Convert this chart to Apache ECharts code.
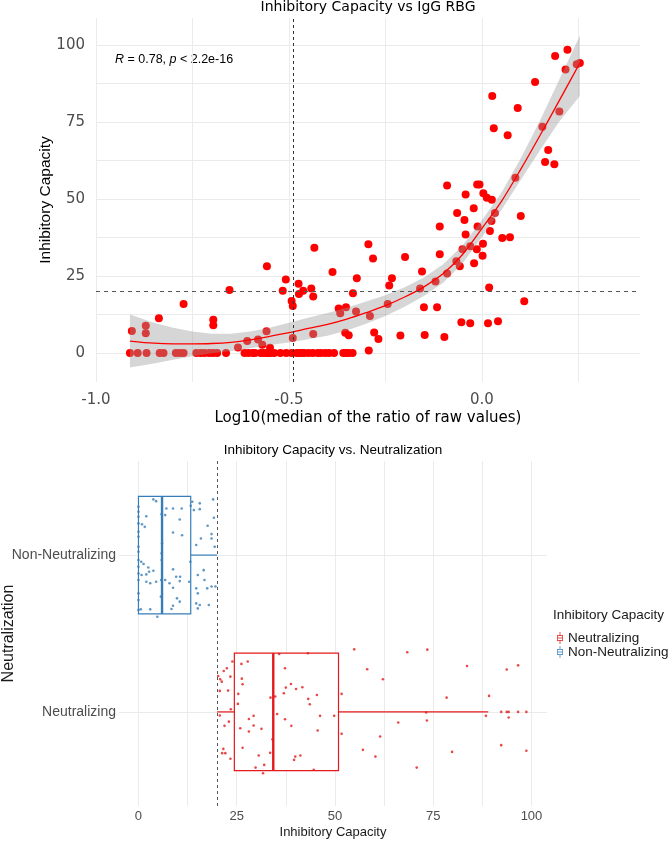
<!DOCTYPE html>
<html lang="en">
<head>
<meta charset="utf-8">
<title>Inhibitory Capacity</title>
<style>
  html, body { margin: 0; padding: 0; background: #fff; }
  #chart { width: 671px; height: 842px; }
</style>
</head>
<body>
<div id="chart"></div>
<script src="https://cdn.jsdelivr.net/npm/echarts@6/dist/echarts.min.js"></script>
<script>
// ---- top panel: log10 ratio vs inhibitory capacity ----
const logRatio = [
  -0.912, -0.892, -0.869, -0.835, -0.825, -0.793, -0.783, -0.773, -0.740, -0.729,
  -0.719, -0.707, -0.697, -0.686, -0.663, -0.615, -0.605, -0.594, -0.588, -0.573,
  -0.568, -0.560, -0.554, -0.547, -0.538, -0.522, -0.507, -0.493, -0.480, -0.473,
  -0.467, -0.460, -0.449, -0.438, -0.425, -0.417, -0.406, -0.396, -0.383, -0.359,
  -0.352, -0.345, -0.335, -0.293,
  -0.907, -0.871, -0.871, -0.837, -0.773, -0.696, -0.696, -0.654, -0.632, -0.608,
  -0.580, -0.569, -0.558, -0.557, -0.549, -0.516, -0.508, -0.493, -0.490, -0.490,
  -0.475, -0.474, -0.463, -0.442, -0.437, -0.434, -0.437, -0.387, -0.371, -0.367,
  -0.352, -0.354, -0.345, -0.334, -0.326, -0.324, -0.294, -0.282, -0.290, -0.279,
  -0.268,
  -0.244, -0.240, -0.233, -0.211, -0.199, -0.160, -0.155, -0.150, -0.148, -0.120,
  -0.116, -0.109, -0.109, -0.097, -0.090, -0.090, -0.066, -0.064, -0.057, -0.053,
  -0.050, -0.045, -0.042, -0.042, -0.030, -0.030, -0.021, -0.020, -0.013, -0.011,
  -0.012, -0.006, 0.002, 0.003, 0.004, 0.013, 0.016, 0.019, 0.021, 0.025,
  0.026, 0.034, 0.042, 0.053, 0.073, 0.101, 0.110,
  0.027, 0.031, 0.067, 0.087, 0.093, 0.138, 0.157, 0.164, 0.172, 0.188,
  0.190, 0.201, 0.217, 0.222, 0.246, 0.254
];
const inhibCap = [
  0, 0, 0, 0, 0, 0, 0, 0, 0, 0,
  0, 0, 0, 0, 0, 0, 0, 0, 0, 0,
  0, 0, 0, 0, 0, 0, 0, 0, 0, 0,
  0, 0, 0, 0, 0, 0, 0, 0, 0, 0,
  0, 0, 0, 0.8,
  7.2, 8.9, 6.4, 11.3, 15.9, 10.8, 9.0, 20.5, 1.8, 3.9,
  4.4, 2.7, 7.1, 28.2, 1.7, 20.2, 23.9, 16.9, 15.3, 4.9,
  22.5, 19.2, 20.2, 21.0, 18.4, 34.2, 6.2, 26.3, 14.5, 12.9,
  14.9, 6.6, 5.8, 19.4, 13.5, 24.3, 35.3, 30.7, 12.0, 6.7,
  4.6,
  15.9, 21.9, 24.3, 5.7, 31.2, 21.0, 26.5, 14.9, 5.9, 23.2,
  14.9, 32.1, 41.1, 5.2, 25.8, 54.4, 29.8, 45.5, 28.2, 10.0,
  33.7, 43.2, 38.5, 51.5, 34.7, 9.7, 47.0, 29.2, 33.7, 41.1,
  54.7, 54.7, 31.6, 35.5, 51.9, 50.4, 9.7, 21.3, 39.6, 42.9,
  49.8, 45.5, 10.3, 37.4, 37.6, 44.5, 16.8,
  83.5, 73.0, 70.7, 56.9, 79.6, 88.0, 73.5, 62.0, 65.9, 61.3,
  96.5, 78.4, 92.1, 98.5, 93.8, 94.2
];

// loess fit and its confidence band
const fitX     = [-0.912, -0.85, -0.80, -0.75, -0.70, -0.65, -0.60, -0.55, -0.50, -0.45, -0.40, -0.35, -0.30, -0.25, -0.20, -0.15, -0.10, -0.05, 0.00, 0.05, 0.10, 0.15, 0.20, 0.254];
const fitY     = [3.9, 3.2, 3.0, 3.0, 3.1, 3.5, 4.3, 5.4, 6.6, 8.0, 9.3, 11.0, 13.1, 15.4, 18.2, 21.5, 25.8, 32.0, 40.4, 49.1, 59.5, 70.5, 81.8, 94.2];
const fitLower = [-4.7, -3.4, -2.2, -1.0, -0.1, 0.7, 1.6, 2.6, 3.4, 4.5, 5.6, 7.3, 9.5, 12.0, 15.0, 18.5, 22.8, 29.1, 37.7, 46.3, 56.0, 65.7, 75.0, 83.5];
const fitUpper = [12.5, 9.8, 8.2, 7.0, 6.3, 6.3, 7.0, 8.2, 9.8, 11.5, 13.0, 14.7, 16.7, 18.8, 21.4, 24.5, 28.8, 34.9, 43.1, 51.9, 63.0, 75.3, 88.6, 103.0];

const topXTicks = [-1.0, -0.5, 0.0];
const topXGrid  = [-1.0, -0.75, -0.5, -0.25, 0.0, 0.25];
const topYTicks = [0, 25, 50, 75, 100];
const topYGrid  = [0, 12.5, 25, 37.5, 50, 62.5, 75, 87.5, 100];
const cutRatio = -0.49;
const cutCap = 20;

// ---- bottom panel: boxplots by neutralization ----
const catLabels = ['Neutralizing', 'Non-Neutralizing'];
const catPos    = [1, 2];
const boxLow  = [20.0, 0];
const boxQ1   = [24.4, 0];
const boxMed  = [34.3, 6.0];
const boxQ3   = [50.9, 13.3];
const boxHigh = [89.0, 20.0];
const neutOutliers = [92.3, 93.7, 94.2, 96.6, 98.7];

const neutIC = [
  35.8, 43.1, 27.8, 26.2, 23.9, 22.5, 21.7, 20.3, 20.8, 21.2,
  23.4, 37.3, 26.3, 26.5, 38.8, 37.5, 40.1, 41.7, 20.7, 22.8,
  25.4, 33.6, 34.8, 37.0, 43.2, 45.4, 43.6, 23.5, 25.3, 20.7,
  35.3, 46.2, 49.8, 37.3, 38.9, 28.1, 29.3, 21.9, 23.0, 25.9,
  28.1, 29.3, 31.3, 45.6, 34.1, 21.6, 21.3, 22.1, 26.5, 23.4,
  39.9, 39.6, 41.2, 30.6, 33.5, 29.8, 32.0, 31.7, 44.6,
  54.9, 68.4, 73.5, 58.2, 62.2, 83.6, 93.7, 96.6, 51.7, 78.4,
  89.2, 73.2, 73.4, 66.1, 88.4, 94.2, 51.7, 61.5, 57.1, 60.3,
  79.8, 92.3, 98.7, 70.8
];
const neutJitter = [
  0.369, 0.374, 0.321, 0.306, 0.321, 0.278, 0.261, 0.229, 0.208, 0.193,
  0.225, 0.278, 0.212, 0.176, 0.178, 0.155, 0.146, 0.157, 0.134, 0.136,
  0.115, 0.091, 0.098, 0.119, 0.083, 0.108, 0.049, 0.017, 0.051, -0.023,
  -0.013, -0.025, -0.025, -0.047, -0.089, -0.045, -0.025, -0.089, -0.062, -0.104,
  -0.125, -0.087, -0.108, -0.119, -0.174, -0.236, -0.263, -0.263, -0.229, -0.299,
  -0.285, -0.306, -0.278, -0.278, -0.261, -0.355, -0.338, -0.391, -0.369,
  0.399, 0.380, 0.397, 0.272, 0.208, 0.293, 0.270, 0.297, 0.115, 0.091,
  0.102, -0.004, -0.055, -0.068, -0.025, -0.036, -0.140, -0.157, -0.242, -0.285,
  -0.255, -0.212, -0.248, -0.355
];
const nonNeutIC = [
  0, 0, 0, 0, 0, 0, 0, 0, 0, 0,
  0, 0, 0, 0, 0,
  3.8, 4.5, 2.0, 0.9, 1.6, 7.1, 8.8, 11.0, 6.8, 10.5,
  5.9, 8.8, 11.1, 6.0, 13.3, 14.1, 15.6, 13.7, 15.6, 19.0,
  19.2, 17.6, 18.6, 18.6, 15.9, 14.7, 19.4, 13.2, 0.7, 1.3,
  2.5, 2.7, 2.0, 0.8, 3.8, 8.8, 5.8, 6.8, 2.0, 4.5,
  3.0, 10.5, 9.6, 10.6, 7.9, 12.9, 15.1, 16.6, 16.8, 14.7,
  15.1, 17.5, 18.6, 19.6, 17.9, 15.6, 15.1, 14.7, 8.8, 9.8,
  10.5, 8.4, 8.8, 0.6, 3.0, 5.7, 5.9, 5.9, 4.8
];
const nonNeutJitter = [
  0.308, 0.276, 0.244, 0.202, 0.149, 0.117, 0.053, 0.021, -0.032, -0.074,
  -0.117, -0.159, -0.244, -0.287, -0.350,
  0.355, 0.344, 0.248, 0.197, 0.180, 0.297, 0.297, 0.297, 0.255, 0.227,
  0.261, 0.144, 0.127, 0.074, 0.314, 0.287, 0.293, 0.340, 0.330, 0.355,
  0.238, 0.187, 0.134, 0.106, 0.106, 0.064, 0.053, -0.042, -0.042, -0.057,
  -0.079, -0.106, -0.123, -0.127, -0.100, -0.091, -0.159, -0.159, -0.170, -0.170,
  -0.180, -0.166, -0.138, -0.138, -0.180, -0.170, -0.127, -0.096, -0.159, -0.212,
  -0.244, -0.212, -0.200, -0.200, -0.318, -0.318, -0.340, -0.308, -0.208, -0.276,
  -0.297, -0.344, -0.323, -0.346, -0.346, -0.265, -0.032, 0.011, -0.393
];

const botXTicks = [0, 25, 50, 75, 100];
const botXGrid  = [0, 12.5, 25, 37.5, 50, 62.5, 75, 87.5, 100];

// ---- styling ----
const RED = '#e41a1c';
const BLUE = '#377eb8';
const boxColors = [RED, BLUE];
const GRID_LINE = '#ebebeb';
const TICK_GREY = '#4d4d4d';
const TOP_FONT = 'DejaVu Sans';
const BOT_FONT = 'Liberation Sans';
const boxIcon = 'path://M0,5H10V15H0Z M1.5,6.5V13.5H8.5V6.5Z M1.5,9.25H8.5V10.75H1.5Z M4.25,0H5.75V5H4.25Z M4.25,15H5.75V20H4.25Z';

const chart = echarts.init(document.getElementById('chart'));

function renderBand(params, api) {
  if (params.dataIndex !== 0) return;
  const n = params.dataInsideLength;
  const upper = [], lower = [];
  for (let i = 0; i < n; i++) {
    upper.push(api.coord([api.value(0, i), api.value(2, i)]));
    lower.unshift(api.coord([api.value(0, i), api.value(1, i)]));
  }
  return {
    type: 'polygon',
    shape: { points: upper.concat(lower) },
    style: { fill: 'rgba(153,153,153,0.4)' }
  };
}

function renderBox(params, api) {
  const pos = api.value(0);
  const lo = api.value(1), q1 = api.value(2), med = api.value(3), q3 = api.value(4), hi = api.value(5);
  const color = boxColors[params.dataIndex];
  const half = 0.375;
  const a = api.coord([q1, pos + half]);
  const b = api.coord([q3, pos - half]);
  const mTop = api.coord([med, pos + half]);
  const mBot = api.coord([med, pos - half]);
  const wLo = api.coord([lo, pos]);
  const wQ1 = api.coord([q1, pos]);
  const wQ3 = api.coord([q3, pos]);
  const wHi = api.coord([hi, pos]);
  return {
    type: 'group',
    children: [
      { type: 'line', shape: { x1: wLo[0], y1: wLo[1], x2: wQ1[0], y2: wQ1[1] }, style: { stroke: color, lineWidth: 1.2 } },
      { type: 'line', shape: { x1: wQ3[0], y1: wQ3[1], x2: wHi[0], y2: wHi[1] }, style: { stroke: color, lineWidth: 1.2 } },
      { type: 'rect', shape: { x: a[0], y: a[1], width: b[0] - a[0], height: b[1] - a[1] }, style: { fill: '#fff', stroke: color, lineWidth: 1.2 } },
      { type: 'line', shape: { x1: mTop[0], y1: mTop[1], x2: mBot[0], y2: mBot[1] }, style: { stroke: color, lineWidth: 2.4 } }
    ]
  };
}

const option = {
  animation: false,
  backgroundColor: '#fff',
  grid: [
    { left: 96, right: 31, top: 18, bottom: 460, outerBoundsMode: 'none', containLabel: false },
    { left: 119, right: 124, top: 461, bottom: 36, outerBoundsMode: 'none', containLabel: false }
  ],
  xAxis: [
    {
      type: 'value', gridIndex: 0, min: -1.0, max: 0.41,
      axisLine: { show: false },
      axisTick: { show: false, customValues: topXGrid },
      axisLabel: { customValues: topXTicks, formatter: v => v.toFixed(1), color: TICK_GREY, fontFamily: TOP_FONT, fontSize: 15, margin: 11 },
      splitLine: { show: true, lineStyle: { color: GRID_LINE, width: 1 } },
      name: 'Log10(median of the ratio of raw values)', nameLocation: 'middle', nameGap: 29,
      nameTextStyle: { color: '#000', fontFamily: TOP_FONT, fontSize: 15 }
    },
    {
      type: 'value', gridIndex: 1, min: -4.95, max: 103.95,
      axisLine: { show: false },
      axisTick: { show: false, customValues: botXGrid },
      axisLabel: { customValues: botXTicks, color: TICK_GREY, fontFamily: BOT_FONT, fontSize: 13, margin: 4 },
      splitLine: { show: true, lineStyle: { color: GRID_LINE, width: 1 } },
      name: 'Inhibitory Capacity', nameLocation: 'middle', nameGap: 20,
      nameTextStyle: { color: '#1a1a1a', fontFamily: BOT_FONT, fontSize: 13 }
    }
  ],
  yAxis: [
    {
      type: 'value', gridIndex: 0, min: -9.4, max: 108.8,
      axisLine: { show: false },
      axisTick: { show: false, customValues: topYGrid },
      axisLabel: { customValues: topYTicks, color: TICK_GREY, fontFamily: TOP_FONT, fontSize: 15, margin: 11 },
      splitLine: { show: true, lineStyle: { color: GRID_LINE, width: 1 } },
      name: 'Inhibitory Capacity', nameLocation: 'middle', nameGap: 42, nameMoveOverlap: false,
      nameTextStyle: { color: '#000', fontFamily: BOT_FONT, fontSize: 15.5 }
    },
    {
      type: 'value', gridIndex: 1, min: 0.4, max: 2.6,
      axisLine: { show: false },
      axisTick: { show: false, customValues: catPos },
      axisLabel: {
        customValues: catPos,
        formatter: v => catLabels[catPos.indexOf(v)] || '',
        color: TICK_GREY, fontFamily: BOT_FONT, fontSize: 14, margin: 3
      },
      splitLine: { show: true, lineStyle: { color: GRID_LINE, width: 1 } },
      name: 'Neutralization', nameLocation: 'middle', nameGap: 102, nameMoveOverlap: false,
      nameTextStyle: { color: '#1a1a1a', fontFamily: BOT_FONT, fontSize: 16 }
    }
  ],
  legend: {
    orient: 'vertical', left: 552, top: 626,
    itemWidth: 6, itemHeight: 12, itemGap: 0,
    selectedMode: false,
    textStyle: { fontFamily: BOT_FONT, fontSize: 13.5, color: '#1a1a1a' },
    data: [
      { name: 'Neutralizing', icon: boxIcon, itemStyle: { color: RED } },
      { name: 'Non-Neutralizing', icon: boxIcon, itemStyle: { color: BLUE } }
    ]
  },
  graphic: [
    {
      type: 'text', x: 368, y: 7, silent: true,
      style: { text: 'Inhibitory Capacity vs IgG RBG', fill: '#000', fontFamily: TOP_FONT, fontSize: 14, align: 'center', verticalAlign: 'middle' }
    },
    {
      type: 'text', x: 115, y: 60, silent: true,
      style: {
        text: '{i|R} = 0.78, {i|p} < 2.2e-16',
        fill: '#000', fontFamily: BOT_FONT, fontSize: 12.5, align: 'left', verticalAlign: 'middle',
        rich: { i: { fontStyle: 'italic', fontFamily: BOT_FONT, fontSize: 12.5, fill: '#000' } }
      }
    },
    {
      type: 'text', x: 333, y: 450, silent: true,
      style: { text: 'Inhibitory Capacity vs. Neutralization', fill: '#000', fontFamily: BOT_FONT, fontSize: 13.5, align: 'center', verticalAlign: 'middle' }
    },
    {
      type: 'text', x: 553, y: 615, silent: true,
      style: { text: 'Inhibitory Capacity', fill: '#1a1a1a', fontFamily: BOT_FONT, fontSize: 13.5, align: 'left', verticalAlign: 'middle' }
    }
  ],
  series: [
    {
      name: 'points', type: 'scatter', xAxisIndex: 0, yAxisIndex: 0, z: 2,
      symbolSize: 8,
      itemStyle: { color: '#ff0000', opacity: 1 },
      data: logRatio.map((x, i) => [x, inhibCap[i]]),
      markLine: {
        silent: true, symbol: ['none', 'none'], label: { show: false },
        data: [
          { xAxis: cutRatio, lineStyle: { color: '#333', width: 1, type: [3, 3] } },
          { yAxis: cutCap, lineStyle: { color: '#555', width: 1, type: [4, 4] } }
        ]
      }
    },
    {
      name: 'band', type: 'custom', xAxisIndex: 0, yAxisIndex: 0, z: 3,
      renderItem: renderBand,
      encode: { x: 0, y: [1, 2] },
      data: fitX.map((x, i) => [x, fitLower[i], fitUpper[i]])
    },
    {
      name: 'fit', type: 'line', xAxisIndex: 0, yAxisIndex: 0, z: 4,
      showSymbol: false, smooth: 0.3,
      lineStyle: { color: '#ff0000', width: 1.3 },
      data: fitX.map((x, i) => [x, fitY[i]])
    },
    {
      name: 'boxes', type: 'custom', xAxisIndex: 1, yAxisIndex: 1, z: 2,
      renderItem: renderBox,
      encode: { x: [1, 2, 3, 4, 5], y: 0 },
      data: catPos.map((p, i) => [p, boxLow[i], boxQ1[i], boxMed[i], boxQ3[i], boxHigh[i]])
    },
    {
      name: 'Neutralizing', type: 'scatter', xAxisIndex: 1, yAxisIndex: 1, z: 4,
      symbolSize: 2.6, itemStyle: { color: RED },
      data: neutIC.map((v, i) => [v, catPos[0] + neutJitter[i]]),
      markLine: {
        silent: true, symbol: ['none', 'none'], label: { show: false },
        data: [{ xAxis: cutCap, lineStyle: { color: '#555', width: 1, type: [3, 3] } }]
      }
    },
    {
      name: 'Neutralizing outliers', type: 'scatter', xAxisIndex: 1, yAxisIndex: 1, z: 4,
      symbolSize: 2.6, itemStyle: { color: RED },
      data: neutOutliers.map(v => [v, catPos[0]])
    },
    {
      name: 'Non-Neutralizing', type: 'scatter', xAxisIndex: 1, yAxisIndex: 1, z: 4,
      symbolSize: 2.6, itemStyle: { color: BLUE },
      data: nonNeutIC.map((v, i) => [v, catPos[1] + nonNeutJitter[i]])
    }
  ]
};

chart.setOption(option);
window.addEventListener('resize', () => chart.resize());
</script>
</body>
</html>
